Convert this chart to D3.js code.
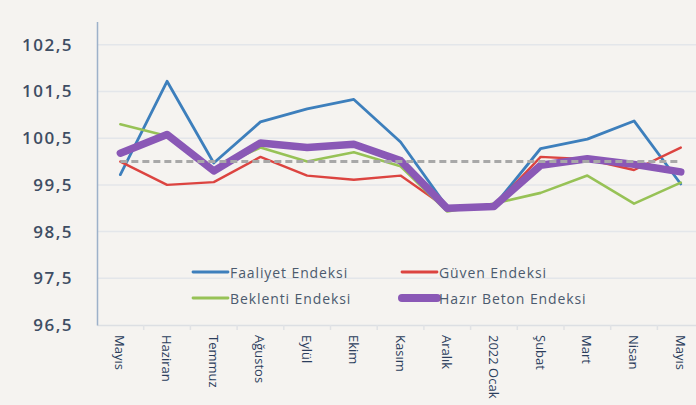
<!DOCTYPE html>
<html>
<head>
<meta charset="utf-8">
<script src="https://cdn.jsdelivr.net/npm/d3@7"></script>
<style>
  html, body { margin: 0; padding: 0; background: #f5f3f0; }
  svg { display: block; }
</style>
</head>
<body>
<script>
// months on the x axis
let months = ["Mayıs", "Haziran", "Temmuz", "Ağustos", "Eylül", "Ekim", "Kasım",
    "Aralık", "2022 Ocak", "Şubat", "Mart", "Nisan", "Mayıs"]

let faaliyet = [99.72, 101.72, 99.97, 100.85, 101.13, 101.33, 100.42, 99.02, 99.05, 100.28, 100.48, 100.87, 99.52]
let guven    = [100.0, 99.5, 99.56, 100.1, 99.7, 99.61, 99.7, 99.0, 99.05, 100.1, 100.05, 99.82, 100.3]
let beklenti = [100.8, 100.55, 99.85, 100.3, 100.0, 100.2, 99.9, 98.93, 99.1, 99.33, 99.7, 99.1, 99.55]
let hazirBeton = [100.18, 100.58, 99.8, 100.4, 100.3, 100.37, 100.02, 99.0, 99.04, 99.92, 100.06, 99.94, 99.78]
let baseline = months.map(() => 100)

let yTicks = [96.5, 97.5, 98.5, 99.5, 100.5, 101.5, 102.5]

let w = 696
let h = 405

let svg = d3.select("body")
    .append("svg")
    .attr("width", w)
    .attr("height", h)

svg.append("rect")
    .attr("width", w)
    .attr("height", h)
    .attr("fill", "#f5f3f0")

let x = d3.scaleBand()
    .domain(d3.range(months.length))
    .range([97, 97 + 13 * 46.7])

let y = d3.scaleLinear()
    .domain([96.5, 103])
    .range([325, 21.5])

let cx = i => x(i) + x.bandwidth() / 2

// gridlines
svg.append("g")
    .selectAll("line")
    .data(yTicks.slice(1))
    .enter()
    .append("line")
    .attr("x1", 97)
    .attr("x2", w)
    .attr("y1", d => y(d))
    .attr("y2", d => y(d))
    .attr("stroke", "#e3e6ea")
    .attr("stroke-width", 1.5)

// x axis
let xAxis = svg.append("g")
    .attr("transform", "translate(0," + y(96.5) + ")")
    .call(d3.axisBottom(x).tickSize(0).tickFormat(""))
xAxis.select(".domain").attr("stroke", "#dcdfe3").attr("stroke-width", 1.5)

svg.append("g")
    .selectAll("line")
    .data(d3.range(1, months.length))
    .enter()
    .append("line")
    .attr("x1", d => x(d))
    .attr("x2", d => x(d))
    .attr("y1", y(96.5))
    .attr("y2", y(96.5) + 5)
    .attr("stroke", "#e0e2e5")
    .attr("stroke-width", 1.5)

svg.append("g")
    .selectAll("text")
    .data(months)
    .enter()
    .append("text")
    .attr("transform", (d, i) => "translate(" + cx(i) + ",335) rotate(90)")
    .attr("dominant-baseline", "central")
    .attr("font-family", "Open Sans")
    .attr("font-size", 13)
    .attr("fill", "#2b3d5c")
    .text(d => d)

// y axis
let yAxis = svg.append("g")
    .attr("transform", "translate(97,0)")
    .call(d3.axisLeft(y)
        .tickValues(yTicks)
        .tickSize(0)
        .tickPadding(24)
        .tickFormat(d => d3.format(".1f")(d).replace(".", ",")))
yAxis.select(".domain").attr("stroke", "#9db1c9").attr("stroke-width", 1.5)
yAxis.selectAll("text")
    .attr("font-family", "Open Sans")
    .attr("font-size", 17)
    .attr("font-weight", 600)
    .attr("letter-spacing", 1.5)
    .attr("fill", "#3e4d63")

let line = d3.line()
    .x((d, i) => cx(i))
    .y(d => y(d))

let series = [
    { name: "Faaliyet Endeksi", values: faaliyet, color: "#3d7fbc", width: 2.8 },
    { name: "Güven Endeksi", values: guven, color: "#dc4440", width: 2.4 },
    { name: "Beklenti Endeksi", values: beklenti, color: "#97c256", width: 2.6 },
    { name: "Hazır Beton Endeksi", values: hazirBeton, color: "#8a58b6", width: 7.5 }
]

svg.append("g")
    .selectAll("path")
    .data(series)
    .enter()
    .append("path")
    .attr("d", d => line(d.values))
    .attr("fill", "none")
    .attr("stroke", d => d.color)
    .attr("stroke-width", d => d.width)
    .attr("stroke-linejoin", "round")
    .attr("stroke-linecap", "round")

svg.append("path")
    .attr("d", line(baseline))
    .attr("fill", "none")
    .attr("stroke", "#a8a8a8")
    .attr("stroke-width", 3)
    .attr("stroke-dasharray", "7,4")

// legend
let legendPos = [[193, 272], [402, 272], [193, 298], [402, 298]]

let legend = svg.append("g")
    .selectAll("g")
    .data(series)
    .enter()
    .append("g")
    .attr("transform", (d, i) => "translate(" + legendPos[i][0] + "," + legendPos[i][1] + ")")

legend.append("line")
    .attr("x1", 0)
    .attr("x2", 35)
    .attr("stroke", d => d.color)
    .attr("stroke-width", (d, i) => i == 3 ? 8 : 2.8)
    .attr("stroke-linecap", "round")

legend.append("text")
    .attr("x", 37)
    .attr("dominant-baseline", "central")
    .attr("font-family", "Open Sans")
    .attr("font-size", 14)
    .attr("font-weight", 500)
    .attr("letter-spacing", 0.9)
    .attr("fill", "#4b5a6e")
    .text(d => d.name)
</script>
</body>
</html>
